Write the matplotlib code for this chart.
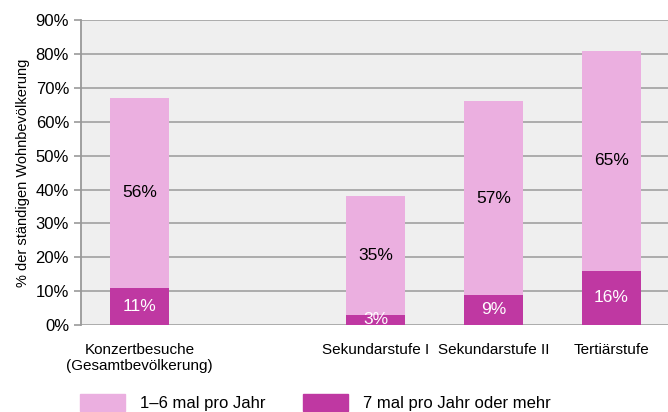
import numpy as np
import matplotlib.pyplot as plt
from matplotlib.patches import Patch

plt.rcParams['font.family'] = ['Liberation Sans Narrow', 'Liberation Sans', 'DejaVu Sans']

categories = ["Konzertbesuche\n(Gesamtbevölkerung)", "Sekundarstufe I", "Sekundarstufe II", "Tertiärstufe"]
positions = [0, 2, 3, 4]
often = [11, 3, 9, 16]       # 7 mal pro Jahr oder mehr
sometimes = [56, 35, 57, 65]  # 1-6 mal pro Jahr
yticks = list(range(0, 91, 10))

pink = '#ebafe0'
magenta = '#bf38a2'

fig = plt.figure(figsize=(6.68, 4.12), dpi=100)
ax = fig.add_axes([0.121, 0.211, 0.879, 0.74])
ax.set_facecolor('#efefef')

ax.bar(positions, often, width=0.5, color=magenta, zorder=3)
ax.bar(positions, sometimes, width=0.5, bottom=often, color=pink, zorder=3)

for x, a, b in zip(positions, often, sometimes):
    ax.text(x, a / 2, f"{a}%", ha='center', va='center', color='white', fontsize=12.5, zorder=4)
    ax.text(x, a + b / 2, f"{b}%", ha='center', va='center', color='black', fontsize=12.5, zorder=4)

ax.set_xlim(-0.5, 4.48)
ax.set_ylim(0, 90)
ax.set_yticks(yticks)
ax.set_yticklabels([f"{v}%" for v in yticks], fontsize=12)
ax.set_xticks(positions)
ax.set_xticklabels(categories, fontsize=11)
ax.tick_params(axis='x', length=0, pad=13)
ax.tick_params(axis='y', length=5, color='#999999', width=1.2)
ax.grid(axis='y', color='#a6a6a6', linewidth=1.3, zorder=1)
for s in ['top', 'right', 'bottom']:
    ax.spines[s].set_visible(False)
ax.spines['left'].set_color('#999999')
ax.spines['left'].set_linewidth(1.3)
ax.set_ylabel("% der ständigen Wohnbevölkerung", fontsize=10.5)

handles = [Patch(color=pink, label="1–6 mal pro Jahr"),
           Patch(color=magenta, label="7 mal pro Jahr oder mehr")]
fig.legend(handles=handles, loc='lower left', bbox_to_anchor=(0.097, -0.035), ncol=2,
           frameon=False, fontsize=12, handlelength=2.7, handleheight=1.2,
           columnspacing=2.25, handletextpad=0.9)

fig.savefig("out.png", dpi=100)
